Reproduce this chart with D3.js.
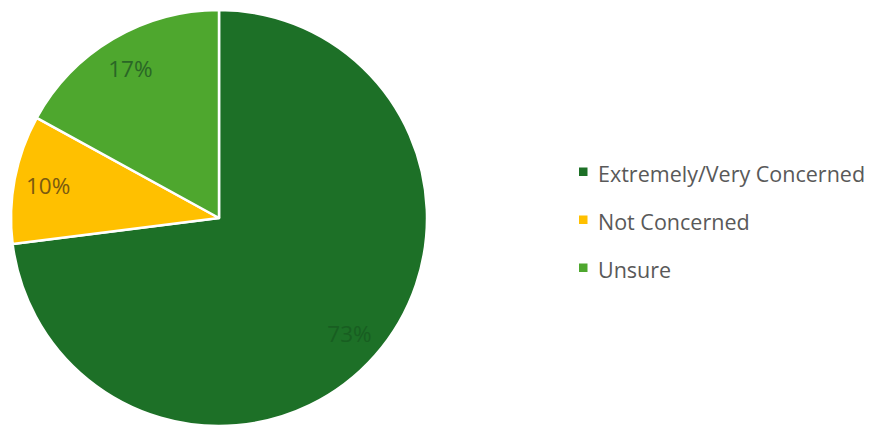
<!DOCTYPE html>
<html>
<head>
<meta charset="utf-8">
<script src="https://cdn.jsdelivr.net/npm/d3@7"></script>
<style>
  html, body { margin: 0; padding: 0; background: #ffffff; }
  svg { display: block; }
</style>
</head>
<body>
<svg id="chart" width="873" height="425"></svg>
<script>
const categories = ["Extremely/Very Concerned", "Not Concerned", "Unsure"];
const values = [73, 10, 17];
const labels = ["73%", "10%", "17%"];
const colors = ["#1D7027", "#FFC000", "#4EA72E"];
const labelColors = ["#185e21", "#7a5a10", "#2a6626"];

const svg = d3.select("#chart");
const cx = 219, cy = 218, R = 208, labelR = 174;

const pie = d3.pie().sort(null).value(d => d.value);
const data = categories.map((c, i) => ({ cat: c, value: values[i], label: labels[i], color: colors[i], lc: labelColors[i] }));
const arcs = pie(data);

const arc = d3.arc().innerRadius(0).outerRadius(R);
const labelArc = d3.arc().innerRadius(labelR).outerRadius(labelR);

const g = svg.append("g").attr("transform", `translate(${cx},${cy})`);

g.selectAll("path.slice")
  .data(arcs)
  .join("path")
  .attr("class", "slice")
  .attr("d", arc)
  .attr("fill", d => d.data.color)
  .attr("stroke", "#ffffff")
  .attr("stroke-width", 2.5)
  .attr("stroke-linejoin", "round");

g.selectAll("text.lbl")
  .data(arcs)
  .join("text")
  .attr("class", "lbl")
  .attr("transform", d => `translate(${labelArc.centroid(d)})`)
  .attr("text-anchor", "middle")
  .attr("dominant-baseline", "central")
  .attr("font-family", "'Open Sans', 'Noto Sans', sans-serif")
  .attr("font-size", 22.5)
  .attr("fill", d => d.data.lc)
  .text(d => d.data.label);

// Legend
const legendX = 579, legendY0 = 172, legendStep = 48;
const leg = svg.append("g");
const items = leg.selectAll("g.item")
  .data(data)
  .join("g")
  .attr("class", "item")
  .attr("transform", (d, i) => `translate(${legendX},${legendY0 + i * legendStep})`);

items.append("rect")
  .attr("x", 0).attr("y", -4.5)
  .attr("width", 8.5).attr("height", 8.5)
  .attr("fill", d => d.color);

items.append("text")
  .attr("x", 19)
  .attr("y", 1)
  .attr("dominant-baseline", "central")
  .attr("font-family", "'Open Sans', 'Noto Sans', sans-serif")
  .attr("font-size", 21.5)
  .attr("fill", "#595959")
  .text(d => d.cat);
</script>
</body>
</html>
